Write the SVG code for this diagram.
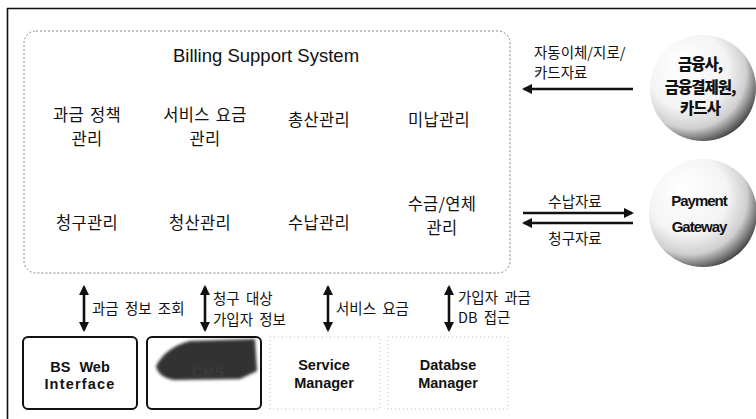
<svg xmlns="http://www.w3.org/2000/svg" width="756" height="419" viewBox="0 0 756 419">
  <style>
    text { font-family: "Liberation Sans", "Noto Sans CJK KR", sans-serif; fill: #111; }
    .ko { font-family: "Noto Sans CJK KR", "Liberation Sans", sans-serif; }
    .mod { font-size: 16.5px; text-anchor: middle; word-spacing: 2px; letter-spacing: 0.3px; }
    .lbl { font-size: 14.5px; word-spacing: 3px; }
    .box { fill: #fff; stroke: #111; stroke-width: 2; }
    .faint { fill: none; stroke: #bbb; stroke-width: 1; stroke-dasharray: 1 3; }
    .bold { font-weight: bold; text-anchor: middle; font-size: 14.5px; }
    .circ { font-weight: 900; text-anchor: middle; letter-spacing: -1px; }
    .conn line { stroke: #111; stroke-width: 2.6; }
  </style>
  <defs>
    <marker id="ah" viewBox="0 0 10 10" refX="8" refY="5" markerWidth="4" markerHeight="4" orient="auto-start-reverse">
      <path d="M0,0 L10,5 L0,10 z" fill="#111"/>
    </marker>
    <radialGradient id="sphere" cx="0.4" cy="0.38" r="0.68" fx="0.3" fy="0.26">
      <stop offset="0" stop-color="#ffffff"/>
      <stop offset="0.55" stop-color="#f4f4f4"/>
      <stop offset="0.78" stop-color="#cfcfcf"/>
      <stop offset="0.92" stop-color="#6a6a6a"/>
      <stop offset="1" stop-color="#2a2a2a"/>
    </radialGradient>
    <filter id="soft" x="-20%" y="-20%" width="140%" height="140%">
      <feGaussianBlur stdDeviation="1.6"/>
    </filter>
  </defs>

  <!-- outer frame: top and left rules only -->
  <path d="M7,8.5 H756 M7.5,8 V419" fill="none" stroke="#111" stroke-width="1.6"/>

  <!-- Billing Support System container -->
  <g id="bss">
    <rect x="24" y="31" width="486" height="242" rx="12" fill="none" stroke="#888" stroke-width="1" stroke-dasharray="2 2"/>
    <text x="266" y="62" font-size="18.5" text-anchor="middle">Billing Support System</text>
    <g id="m-policy"><text class="ko mod" x="87" y="121">과금 정책</text><text class="ko mod" x="87" y="145">관리</text></g>
    <g id="m-service"><text class="ko mod" x="205" y="121">서비스 요금</text><text class="ko mod" x="205" y="145">관리</text></g>
    <g id="m-total"><text class="ko mod" x="319" y="126">총산관리</text></g>
    <g id="m-unpaid"><text class="ko mod" x="439" y="126">미납관리</text></g>
    <g id="m-bill"><text class="ko mod" x="87" y="229">청구관리</text></g>
    <g id="m-settle"><text class="ko mod" x="200" y="229">청산관리</text></g>
    <g id="m-receipt"><text class="ko mod" x="319" y="229">수납관리</text></g>
    <g id="m-overdue"><text class="ko mod" x="442" y="210">수금/연체</text><text class="ko mod" x="442" y="234">관리</text></g>
  </g>

  <!-- external parties -->
  <g id="fin">
    <circle cx="703" cy="88" r="53" fill="url(#sphere)"/>
    <text class="ko circ" x="700" y="70" font-size="15.5">금융사,</text>
    <text class="ko circ" x="700" y="93" font-size="15.5">금융결제원,</text>
    <text class="ko circ" x="700" y="114" font-size="15.5">카드사</text>
  </g>
  <g id="pg">
    <circle cx="703" cy="213" r="54" fill="url(#sphere)"/>
    <text class="circ" x="699" y="206" font-size="15">Payment</text>
    <text class="circ" x="699" y="232" font-size="15">Gateway</text>
  </g>

  <!-- lower systems -->
  <g id="bsweb">
    <rect class="box" x="23" y="337" width="114" height="72" rx="5"/>
    <text class="bold" x="80" y="372" word-spacing="5">BS Web</text>
    <text class="bold" x="80" y="389" letter-spacing="1.2">Interface</text>
  </g>
  <g id="cms">
    <rect class="box" x="147" y="337" width="114" height="72" rx="5"/>
    <path d="M156,366 Q166,347 190,341 L255,339 L257,371 L240,379 L174,380 Q158,377 156,366 z" fill="#1a1a1a" filter="url(#soft)" opacity="0.9"/>
    <text class="bold" x="208" y="377" style="fill:#3a3a3a">CMS</text>
  </g>
  <g id="svcmgr">
    <rect class="faint" x="270" y="337" width="110" height="72"/>
    <text class="bold" x="324" y="370">Service</text>
    <text class="bold" x="324" y="388">Manager</text>
  </g>
  <g id="dbmgr">
    <rect class="faint" x="388" y="337" width="120" height="72"/>
    <text class="bold" x="448" y="370">Databse</text>
    <text class="bold" x="448" y="388">Manager</text>
  </g>

  <!-- connectors -->
  <g id="connectors" class="conn">
    <line x1="633" y1="89" x2="524" y2="89" marker-end="url(#ah)"/>
    <line x1="523" y1="213" x2="632" y2="213" marker-end="url(#ah)"/>
    <line x1="633" y1="223" x2="524" y2="223" marker-end="url(#ah)"/>
    <line x1="84" y1="287" x2="84" y2="330" marker-start="url(#ah)" marker-end="url(#ah)"/>
    <line x1="205" y1="287" x2="205" y2="330" marker-start="url(#ah)" marker-end="url(#ah)"/>
    <line x1="328" y1="287" x2="328" y2="330" marker-start="url(#ah)" marker-end="url(#ah)"/>
    <line x1="449" y1="287" x2="449" y2="330" marker-start="url(#ah)" marker-end="url(#ah)"/>
  </g>

  <!-- connector labels -->
  <g id="labels">
    <text class="ko lbl" x="534" y="58">자동이체/지로/</text>
    <text class="ko lbl" x="534" y="78">카드자료</text>
    <text class="ko lbl" x="575" y="207" text-anchor="middle">수납자료</text>
    <text class="ko lbl" x="575" y="244" text-anchor="middle">청구자료</text>
    <text class="ko lbl" x="92" y="314">과금 정보 조회</text>
    <text class="ko lbl" x="213" y="304">청구 대상</text>
    <text class="ko lbl" x="213" y="325">가입자 정보</text>
    <text class="ko lbl" x="336" y="314">서비스 요금</text>
    <text class="ko lbl" x="458" y="303">가입자 과금</text>
    <text class="ko lbl" x="458" y="323">DB 접근</text>
  </g>
</svg>
